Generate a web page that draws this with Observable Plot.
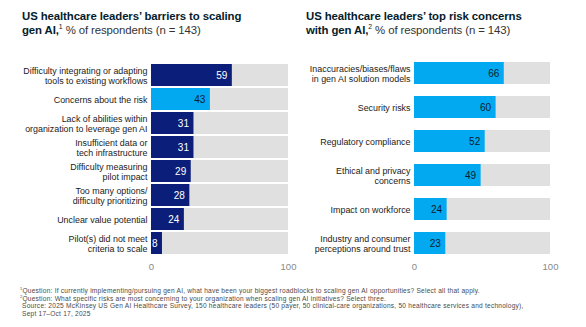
<!DOCTYPE html>
<html>
<head>
<meta charset="utf-8">
<script src="https://cdn.jsdelivr.net/npm/d3@7"></script>
<script src="https://cdn.jsdelivr.net/npm/@observablehq/plot@0.6"></script>
<style>
  html, body { margin: 0; padding: 0; background: #fff; }
  #wrap { position: relative; width: 586px; height: 327px; font-family: "Liberation Sans", Arial, sans-serif; color: #051c2c; }
  .title { position: absolute; top: 10px; font-size: 11.4px; line-height: 13.5px; letter-spacing: -0.1px; }
  .title b { font-weight: 700; }
  .title span { font-weight: 400; color: #333; }
  .panel { position: absolute; top: 50px; }
  .panel svg { overflow: visible; }
  #notes { position: absolute; left: 20px; top: 287px; font-size: 6.6px; line-height: 7.5px; color: #4a4a4a; letter-spacing: 0.22px; white-space: nowrap; }
  sup { font-size: 60%; line-height: 0; vertical-align: super; }
</style>
</head>
<body>
<div id="wrap">
  <div class="title" style="left:22px"><b>US healthcare leaders’ barriers to scaling<br>gen AI,</b><sup>1</sup> <span>% of respondents (n = 143)</span></div>
  <div class="title" style="left:306px"><b>US healthcare leaders’ top risk concerns<br>with gen AI,</b><sup>2</sup> <span>% of respondents (n = 143)</span></div>
  <div class="panel" id="left" style="left:0px"></div>
  <div class="panel" id="right" style="left:293px"></div>
  <div id="notes">
    <sup>1</sup>Question: If currently implementing/pursuing gen AI, what have been your biggest roadblocks to scaling gen AI opportunities? Select all that apply.<br>
    <sup>2</sup>Question: What specific risks are most concerning to your organization when scaling gen AI initiatives? Select three.<br>
    &nbsp;Source: 2025 McKinsey US Gen AI Healthcare Survey, 150 healthcare leaders (50 payer, 50 clinical-care organizations, 50 healthcare services and technology),<br>
    &nbsp;Sept 17–Oct 17, 2025
  </div>
</div>
<script>
const barrierLabels = [
  "Difficulty integrating or adapting\ntools to existing workflows",
  "Concerns about the risk",
  "Lack of abilities within\norganization to leverage gen AI",
  "Insufficient data or\ntech infrastructure",
  "Difficulty measuring\npilot impact",
  "Too many options/\ndifficulty prioritizing",
  "Unclear value potential",
  "Pilot(s) did not meet\ncriteria to scale"
];
const barrierValues = [59, 43, 31, 31, 29, 28, 24, 8];
const barrierHighlight = [false, true, false, false, false, false, false, false];

const riskLabels = [
  "Inaccuracies/biases/flaws\nin gen AI solution models",
  "Security risks",
  "Regulatory compliance",
  "Ethical and privacy\nconcerns",
  "Impact on workforce",
  "Industry and consumer\nperceptions around trust"
];
const riskValues = [66, 60, 52, 49, 24, 23];

const xTicks = [0, 100];
const totalValue = 100;

const NAVY = "#0b1f7a";
const CYAN = "#03a9f0";
const GRAY = "#e0e0e0";

function panel(labels, values, highlight, opts) {
  const data = labels.map((l, i) => ({label: l, value: values[i], light: highlight[i]}));
  return Plot.plot({
    width: 293,
    height: 228,
    marginTop: 10,
    marginBottom: 21,
    marginLeft: opts.marginLeft,
    marginRight: opts.marginRight,
    style: {fontFamily: "Liberation Sans, Arial, sans-serif", color: "#222", background: "transparent", overflow: "visible"},
    x: {domain: [0, totalValue], axis: null},
    y: {domain: labels, padding: opts.padding, paddingOuter: 0, axis: null},
    marks: [
      Plot.barX(data, {y: "label", x1: 0, x2: totalValue, fill: GRAY}),
      Plot.barX(data, {y: "label", x1: 0, x2: "value", fill: d => d.light ? CYAN : NAVY}),
      Plot.text(data, {y: "label", x: "value", text: d => String(d.value), textAnchor: "end", dx: -5,
        fill: d => d.light ? "#051c2c" : "#ffffff", fontSize: 10}),
      Plot.axisY({tickSize: 0, tickPadding: 4, fontSize: 8.9, textAnchor: "end", lineHeight: 1.1, fill: "#222", label: null}),
      Plot.axisX(xTicks, {tickSize: 0, tickPadding: 6, fontSize: 9.5, fill: "#888", label: null})
    ]
  });
}

document.getElementById("left").append(panel(barrierLabels, barrierValues, barrierHighlight, {marginLeft: 151, marginRight: 5, padding: 0.1}));
document.getElementById("right").append(panel(riskLabels, riskValues, riskValues.map(() => true), {marginLeft: 121, marginRight: 36, padding: 0.34}));
</script>
</body>
</html>
